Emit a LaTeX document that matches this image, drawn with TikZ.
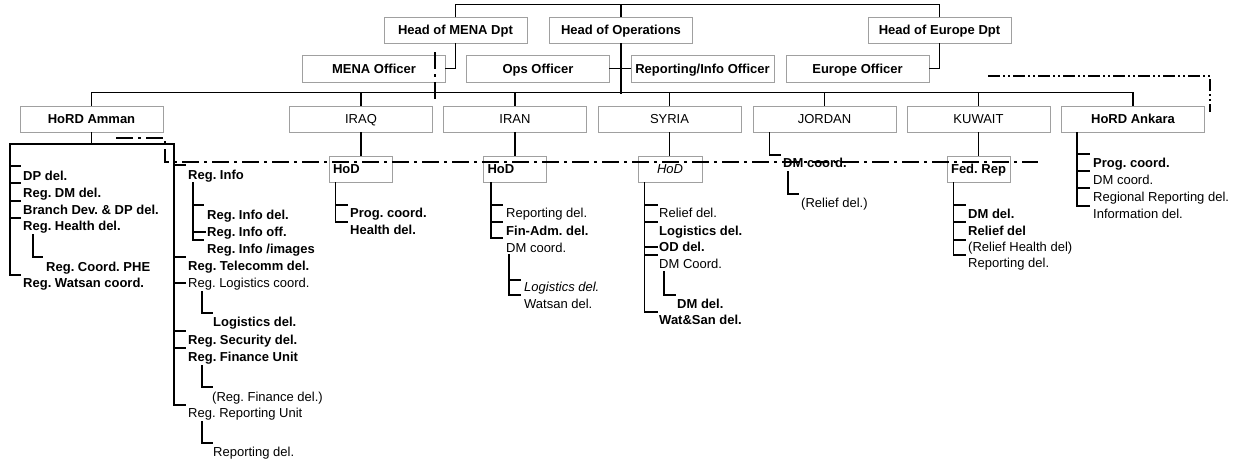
\documentclass[tikz,border=0pt]{standalone}
\usepackage{fontspec}
\setmainfont{Liberation Sans}
\usetikzlibrary{calc}
\definecolor{boxgray}{RGB}{160,160,160}
\newcommand\fsz{\fontsize{13}{15}\selectfont}
\frenchspacing
\begin{document}
\begin{tikzpicture}[x=1pt,y=-1pt,
  conn/.style={line width=1.7pt,line cap=rect},
  box/.style={draw=boxgray,line width=1pt,fill=white,minimum width=143pt,minimum height=26pt,inner sep=0pt,text height=9.4pt,text depth=0pt,font=\fsz\bfseries},
  boxr/.style={box,font=\fsz},
  hodl/.style={box,minimum width=63pt,text width=55pt,align=left,inner xsep=4pt},
  t/.style={anchor=west,inner sep=0pt,text height=9.4pt,text depth=0pt,font=\fsz},
  tb/.style={t,font=\fsz\bfseries},
  ti/.style={t,font=\fsz\itshape},
  dd/.style={line width=1.8pt,dash pattern=on 17pt off 5pt on 3pt off 5pt},
  ddd/.style={line width=1.2pt,dash pattern=on 12pt off 3pt on 2pt off 3pt on 2pt off 3pt}]
\useasboundingbox (0,0) rectangle (1238,463);

% ---------- top boxes ----------
\node[box] (hmena) at (455.5,30) {Head of MENA Dpt};
\node[box] (hops) at (621,30) {Head of Operations};
\node[box] (heur) at (939.5,30) {Head of Europe Dpt};
\node[box,minimum height=27pt] (menaoff) at (374,68.5) {MENA Officer};
\node[box,minimum height=27pt] (opsoff) at (538,68.5) {Ops Officer};
\node[box,minimum height=27pt] (repoff) at (702.5,68.5) {Reporting/Info Officer};
\node[box,minimum height=27pt] (euroff) at (857.5,68.5) {Europe Officer};

% ---------- country row ----------
\node[box] (amman) at (91.5,119) {HoRD Amman};
\node[boxr] (iraq) at (361,119) {IRAQ};
\node[boxr] (iran) at (515,119) {IRAN};
\node[boxr] (syria) at (669.5,119) {SYRIA};
\node[boxr] (jordan) at (824.5,119) {JORDAN};
\node[boxr] (kuwait) at (978.5,119) {KUWAIT};
\node[box] (ankara) at (1133,119) {HoRD Ankara};

% ---------- HoD boxes ----------
\node[hodl] (iraqhod) at (360.5,169) {HoD};
\node[hodl] (iranhod) at (515,169) {HoD};
\node[box,minimum width=64pt,font=\fsz\itshape] (syriahod) at (670,169) {HoD};
\node[box,minimum width=63pt] (fedrep) at (978.5,169) {Fed. Rep};

% ---------- top connectors ----------
\draw[conn] (hmena.north) -- ++(0,-12) -| (heur.north);
\draw[conn] (hops.north) -- ++(0,-12);
\draw[conn] (hmena.south) |- (menaoff.east);
\draw[conn] (heur.south) |- (euroff.east);
\draw[conn] (hops.south) -- ++(0,50);
\draw[conn] (opsoff.east) -- (repoff.west);
\draw[conn] (amman.north) -- ++(0,-13) -| (ankara.north);
\foreach \n in {iraq,iran,syria,jordan,kuwait}
  \draw[conn] (\n.north) -- ++(0,-13);
\foreach \a/\b in {iraq/iraqhod,iran/iranhod,syria/syriahod,kuwait/fedrep}
  \draw[conn] (\a.south) -- (\a.south |- \b.north);

% ---------- Amman ----------
\node[tb] (dp) at (23,176) {DP del.};
\node[tb] (rdm) at (23,193) {Reg. DM del.};
\node[tb] (bdev) at (23,210) {Branch Dev. \& DP del.};
\node[tb] (rhealth) at (23,226) {Reg. Health del.};
\node[tb] (phe) at (46,267) {Reg. Coord. PHE};
\node[tb] (watsan) at (23,283) {Reg. Watsan coord.};

\node[tb] (rinfo) at (188,175) {Reg. Info};
\node[tb] (rinfodel) at (207,215) {Reg. Info del.};
\node[tb] (rinfooff) at (207,232) {Reg. Info off.};
\node[tb] (rinfoimg) at (207,249) {Reg. Info /images};
\node[tb] (rtel) at (188,266) {Reg. Telecomm del.};
\node[t] (rlog) at (188,283) {Reg. Logistics coord.};
\node[tb] (logdel) at (213,322) {Logistics del.};
\node[tb] (rsec) at (188,340) {Reg. Security del.};
\node[tb] (rfin) at (188,357) {Reg. Finance Unit};
\node[t] (rfindel) at (212,397) {(Reg. Finance del.)};
\node[t] (rrep) at (188,413) {Reg. Reporting Unit};
\node[t] (repdel) at (213,452) {Reporting del.};

\coordinate (lsp) at (10,144);
\coordinate (rsp) at (174,144);
\draw[conn] (amman.south) -- (amman.south |- lsp);
\draw[conn] (lsp) -- (rsp);
\draw[conn] (lsp) |- ($(watsan.west)+(-3,-8)$);
\draw[conn] ($(dp.west)+(-3,-10)$) -- ++(-10,0);
\draw[conn] ($(rdm.west)+(-3,-10)$) -- ++(-10,0);
\draw[conn] ($(bdev.west)+(-3,-9)$) -- ++(-10,0);
\draw[conn] ($(rhealth.west)+(-3,-8)$) -- ++(-10,0);
\coordinate (phes) at ($(rhealth.west)+(10,9)$);
\draw[conn] (phes) |- ($(phe.west)+(-4,-10)$);

\draw[conn] (rsp) |- ($(rrep.west)+(-3,-8)$);
\draw[conn] ($(rinfo.west)+(-3,-10)$) -- ++(-11,0);
\draw[conn] ($(rtel.west)+(-3,-9)$) -- ++(-11,0);
\draw[conn] ($(rlog.west)+(-3,0)$) -- ++(-11,0);
\draw[conn] ($(rsec.west)+(-3,-9)$) -- ++(-11,0);
\draw[conn] ($(rfin.west)+(-3,-9)$) -- ++(-11,0);
\coordinate (infos) at ($(rinfo.west)+(5,8)$);
\draw[conn] (infos) |- ($(rinfoimg.west)+(-4,-9)$);
\draw[conn] ($(rinfodel.west)+(-4,-10)$) -- ++(-10,0);
\draw[conn] ($(rinfooff.west)+(-2,0)$) -- ++(-12,0);
\coordinate (logs) at ($(rlog.west)+(14,9)$);
\draw[conn] (logs) |- ($(logdel.west)+(-1,-9)$);
\coordinate (fins) at ($(rfin.west)+(14,9)$);
\draw[conn] (fins) |- ($(rfindel.west)+(0,-10)$);
\coordinate (reps) at ($(rrep.west)+(14,9)$);
\draw[conn] (reps) |- ($(repdel.west)+(-1,-9)$);

% ---------- Iraq ----------
\node[tb] (iqprog) at (350,213) {Prog. coord.};
\node[tb] (iqhealth) at (350,230) {Health del.};
\coordinate (iqs) at ([xshift=7pt]iraqhod.south west);
\draw[conn] (iqs) |- ($(iqhealth.west)+(-3,-8)$);
\draw[conn] ($(iqprog.west)+(-3,-8)$) -- ++(-11,0);

% ---------- Iran ----------
\node[t] (irrep) at (506,213) {Reporting del.};
\node[tb] (irfin) at (506,231) {Fin-Adm. del.};
\node[t] (irdm) at (506,248) {DM coord.};
\node[ti] (irlog) at (524,287) {Logistics del.};
\node[t] (irwat) at (524,304) {Watsan del.};
\coordinate (irs) at ([xshift=8pt]iranhod.south west);
\draw[conn] (irs) |- ($(irdm.west)+(-4,-10)$);
\draw[conn] ($(irrep.west)+(-4,-8)$) -- ++(-11,0);
\draw[conn] ($(irfin.west)+(-4,-9)$) -- ++(-11,0);
\coordinate (irds) at ($(irdm.west)+(3,7)$);
\draw[conn] (irds) |- ($(irwat.west)+(-4,-9)$);
\draw[conn] ($(irlog.west)+(-4,-7)$) -- ++(-11,0);

% ---------- Syria ----------
\node[t] (syrel) at (659,213) {Relief del.};
\node[tb] (sylog) at (659,231) {Logistics del.};
\node[tb] (syod) at (659,247) {OD del.};
\node[t] (sydm) at (659,264) {DM Coord.};
\node[tb] (sydmdel) at (677,304) {DM del.};
\node[tb] (sywat) at (659,320) {Wat\&San del.};
\coordinate (sys) at ([xshift=7pt]syriahod.south west);
\draw[conn] (sys) |- ($(sywat.west)+(-2,-8)$);
\draw[conn] ($(syrel.west)+(-2,-8)$) -- ++(-12,0);
\draw[conn] ($(sylog.west)+(-2,-9)$) -- ++(-12,0);
\draw[conn] ($(syod.west)+(-2,0)$) -- ++(-12,0);
\draw[conn] ($(sydm.west)+(-2,-9)$) -- ++(-12,0);
\coordinate (syds) at ($(sydm.west)+(5,8)$);
\draw[conn] (syds) |- ($(sydmdel.west)+(-2,-9)$);

% ---------- Jordan ----------
\node[tb] (jodm) at (783,163) {DM coord.};
\node[t] (jorel) at (801,203) {(Relief del.)};
\coordinate (jos) at ([xshift=17pt]jordan.south west);
\draw[conn] (jos) |- ($(jodm.west)+(-3,-8)$);
\coordinate (jods) at ($(jodm.west)+(5,9)$);
\draw[conn] (jods) |- ($(jorel.west)+(-3,-9)$);

% ---------- Kuwait ----------
\node[tb] (kudm) at (968,214) {DM del.};
\node[tb] (kurel) at (968,231) {Relief del};
\node[t] (kuhealth) at (968,247) {(Relief Health del)};
\node[t] (kurep) at (968,263) {Reporting del.};
\coordinate (kus) at ([xshift=7pt]fedrep.south west);
\draw[conn] (kus) |- ($(kurep.west)+(-3,-8)$);
\draw[conn] ($(kudm.west)+(-3,-9)$) -- ++(-11,0);
\draw[conn] ($(kurel.west)+(-3,-9)$) -- ++(-11,0);
\draw[conn] ($(kuhealth.west)+(-3,-7)$) -- ++(-11,0);

% ---------- Ankara ----------
\node[tb] (anprog) at (1093,163) {Prog. coord.};
\node[t] (andm) at (1093,180) {DM coord.};
\node[t] (anreg) at (1093,197) {Regional Reporting del.};
\node[t] (aninfo) at (1093,214) {Information del.};
\coordinate (ans) at ([xshift=16pt]ankara.south west);
\draw[conn] (ans) |- ($(aninfo.west)+(-4,-8)$);
\draw[conn] ($(anprog.west)+(-4,-9)$) -- ++(-11,0);
\draw[conn] ($(andm.west)+(-4,-9)$) -- ++(-11,0);
\draw[conn] ($(anreg.west)+(-4,-9)$) -- ++(-11,0);

% ---------- dash-dot boundaries ----------
\coordinate (d1) at (116,138);
\coordinate (d2) at (165,138);
\coordinate (d3) at (165,162);
\coordinate (d4) at (1038,162);
\draw[dd] (d1) -- (d2) -- (d3) -- (d4);
\coordinate (m1) at (435,52);
\coordinate (m2) at (435,102);
\draw[dd,line width=1.5pt] (m1) -- (m2);
\coordinate (e1) at (988,76);
\coordinate (e2) at (1210,76);
\coordinate (e3) at (1210,112);
\draw[ddd] (e1) -- (e2) -- (e3);
\end{tikzpicture}
\end{document}
